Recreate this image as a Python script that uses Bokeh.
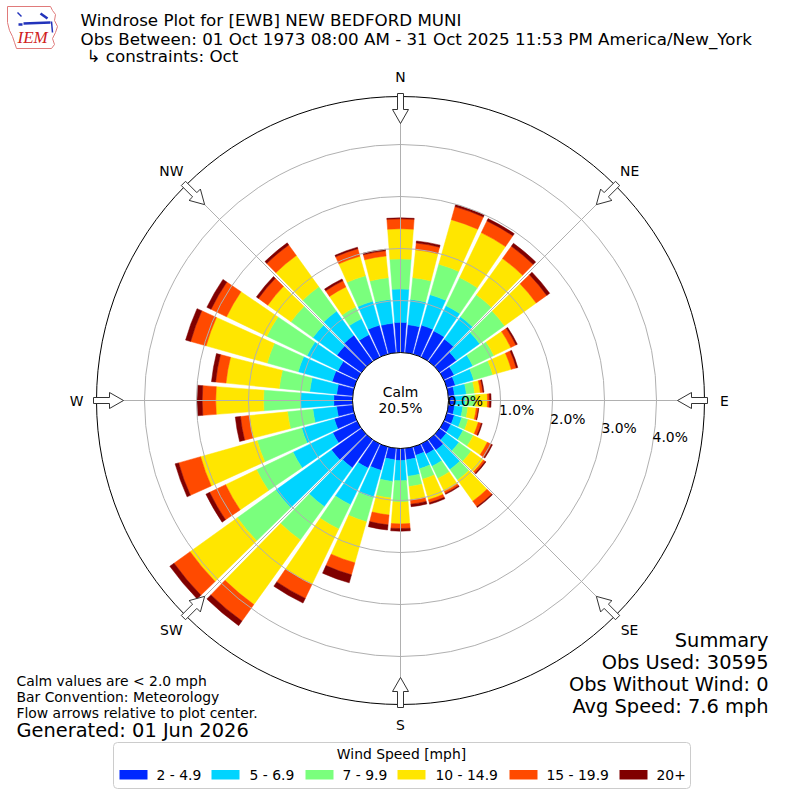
import numpy as np
from bokeh.plotting import figure
from bokeh.models import Range1d, ColumnDataSource
from bokeh.core.properties import value
from bokeh.embed import file_html
from bokeh.resources import INLINE

# ---------------- data ----------------
directions = [0, 10, 20, 30, 40, 50, 60, 70, 80, 90, 100, 110, 120, 130, 140, 150, 160, 170,
              180, 190, 200, 210, 220, 230, 240, 250, 260, 270, 280, 290, 300, 310, 320, 330, 340, 350]
speed_bins = ["2 - 4.9", "5 - 6.9", "7 - 9.9", "10 - 14.9", "15 - 19.9", "20+"]
bin_colors = ["#0028ff", "#00d4ff", "#7aff7d", "#ffe600", "#ff4a00", "#800000"]

pct_2_4_9 = [0.58, 0.54, 0.58, 0.56, 0.53, 0.40, 0.22, 0.17, 0.12, 0.12, 0.12, 0.15, 0.15, 0.16, 0.25, 0.22, 0.17, 0.22,
             0.23, 0.22, 0.47, 0.52, 0.67, 0.71, 0.52, 0.40, 0.31, 0.36, 0.31, 0.44, 0.41, 0.58, 0.62, 0.48, 0.58, 0.57]
pct_5_6_9 = [0.64, 0.49, 0.61, 0.54, 0.53, 0.55, 0.40, 0.37, 0.23, 0.20, 0.16, 0.15, 0.26, 0.30, 0.46, 0.26, 0.27, 0.32,
             0.39, 0.42, 0.55, 0.78, 0.92, 1.32, 0.85, 0.65, 0.46, 0.64, 0.52, 0.68, 0.66, 0.57, 0.57, 0.34, 0.48, 0.46]
pct_7_9_9 = [0.58, 0.42, 0.61, 0.60, 0.52, 0.59, 0.45, 0.38, 0.16, 0.20, 0.10, 0.13, 0.22, 0.29, 0.25, 0.26, 0.21, 0.20,
             0.41, 0.32, 0.48, 0.52, 0.79, 0.91, 0.78, 0.89, 0.49, 0.71, 0.59, 0.62, 0.86, 0.52, 0.58, 0.25, 0.51, 0.42]
pct_10_14_9 = [0.58, 0.54, 0.89, 0.96, 0.86, 0.75, 0.36, 0.37, 0.11, 0.23, 0.16, 0.20, 0.30, 0.29, 0.50, 0.28, 0.41, 0.26,
               0.42, 0.33, 0.82, 1.18, 1.53, 1.12, 0.66, 1.13, 0.74, 0.92, 1.03, 1.22, 0.86, 0.55, 0.74, 0.43, 0.39, 0.42]
pct_15_19_9 = [0.19, 0.13, 0.26, 0.25, 0.29, 0.25, 0.11, 0.10, 0.05, 0.04, 0.04, 0.06, 0.09, 0.04, 0.13, 0.04, 0.06, 0.08,
               0.09, 0.19, 0.24, 0.30, 0.39, 0.38, 0.34, 0.44, 0.17, 0.26, 0.20, 0.31, 0.33, 0.22, 0.25, 0.13, 0.15, 0.10]
pct_20_plus = [0.02, 0.04, 0.04, 0.05, 0.07, 0.07, 0.03, 0.03, 0.02, 0.03, 0.01, 0.02, 0.02, 0.02, 0.02, 0.02, 0.03, 0.05,
               0.05, 0.10, 0.16, 0.10, 0.11, 0.10, 0.08, 0.07, 0.10, 0.10, 0.08, 0.10, 0.09, 0.05, 0.05, 0.04, 0.03, 0.03]
series = [pct_2_4_9, pct_5_6_9, pct_7_9_9, pct_10_14_9, pct_15_19_9, pct_20_plus]

calm_pct = 20.5
ring_values = [0.0, 1.0, 2.0, 3.0, 4.0]
ring_labels = ["0.0%", "1.0%", "2.0%", "3.0%", "4.0%"]
compass_angles = [0, 45, 90, 135, 180, 225, 270, 315]
compass_names = ["N", "NE", "E", "SE", "S", "SW", "W", "NW"]

title_lines = ["Windrose Plot for [EWB] NEW BEDFORD MUNI",
               "Obs Between: 01 Oct 1973 08:00 AM - 31 Oct 2025 11:53 PM America/New_York",
               "\u21b3 constraints: Oct"]
notes = ["Calm values are < 2.0 mph", "Bar Convention: Meteorology", "Flow arrows relative to plot center."]
generated = "Generated: 01 Jun 2026"
summary = ["Summary", "Obs Used: 30595", "Obs Without Wind: 0", "Avg Speed: 7.6 mph"]
legend_title = "Wind Speed [mph]"

# ---------------- geometry ----------------
PX = 52.0            # pixels per percent
CALM_R = 48.0 / PX   # calm circle radius (data units)
OUTER_R = 304.0 / PX
SIZE = 792
FONT = value("DejaVu Sans")
F10 = "13.9px"
F12 = "16.7px"
F14 = "19.4px"


def P(px, py):
    return (px - 400.0) / PX, (400.0 - py) / PX


p = figure(width=SIZE, height=SIZE, output_backend="svg", toolbar_location=None,
           x_range=Range1d(-400 / PX, (SIZE - 400) / PX), y_range=Range1d(-(SIZE - 400) / PX, 400 / PX),
           min_border=0, x_axis_location=None, y_axis_location=None)
p.grid.visible = False
p.outline_line_color = None
p.background_fill_color = "white"
p.border_fill_color = "white"

# ---------------- bars ----------------
half = np.deg2rad(4.3)
inner, outer, start, end, col = [], [], [], [], []
for i, d in enumerate(directions):
    base = CALM_R
    th = np.deg2rad(90 - d)
    for j in range(len(series)):
        v = series[j][i]
        inner.append(base)
        outer.append(base + v)
        start.append(th - half)
        end.append(th + half)
        col.append(bin_colors[j])
        base += v
src = ColumnDataSource(dict(inner=inner, outer=outer, start=start, end=end, color=col))
p.annular_wedge(x=0, y=0, inner_radius="inner", outer_radius="outer", start_angle="start",
                end_angle="end", fill_color="color", line_color="color", line_width=0.5, source=src)

# ---------------- grid ----------------
p.arc(x=0, y=0, radius=[CALM_R + v for v in ring_values[1:]], start_angle=0, end_angle=2 * np.pi,
      line_color="#b0b0b0", line_width=1)
ang = np.deg2rad(np.array(compass_angles, dtype=float))
p.segment(x0=list(CALM_R * np.sin(ang)), y0=list(CALM_R * np.cos(ang)),
          x1=list(OUTER_R * np.sin(ang)), y1=list(OUTER_R * np.cos(ang)),
          line_color="#b0b0b0", line_width=1)
p.circle(x=[0], y=[0], radius=CALM_R, fill_color="white", line_color="black", line_width=1)
p.arc(x=0, y=0, radius=OUTER_R, start_angle=0, end_angle=2 * np.pi, line_color="black", line_width=1)

# radial labels
la = np.deg2rad(-10)
p.text(x=[(CALM_R + v) * np.cos(la) for v in ring_values], y=[(CALM_R + v) * np.sin(la) for v in ring_values],
       text=ring_labels, text_font=FONT, text_font_size=F10, text_align="left",
       text_baseline="bottom", text_color="black")

# calm text
p.text(x=[0, 0], y=[P(0, 391)[1], P(0, 407)[1]], text=["Calm", f"{calm_pct:.1f}%"], text_font=FONT,
       text_font_size=F10, text_align="center", text_baseline="middle", text_color="black")

# compass labels
LR = 324.0 / PX
p.text(x=list(LR * np.sin(ang)), y=list(LR * np.cos(ang)), text=compass_names, text_font=FONT,
       text_font_size=F10, text_align="center", text_baseline="middle", text_color="black")

# arrows
shape = [(0, -3), (16, -3), (16, -8), (30, 0), (16, 8), (16, 3), (0, 3)]
xs, ys = [], []
RT = 307.0
for a in ang:
    ux, uy = np.sin(a), np.cos(a)
    vx, vy = np.cos(a), -np.sin(a)
    xs.append([((RT - s) * ux + t * vx) / PX for s, t in shape])
    ys.append([((RT - s) * uy + t * vy) / PX for s, t in shape])
p.patches(xs=xs, ys=ys, fill_color="white", line_color="#333333", line_width=1)

# ---------------- titles and notes ----------------
for txt, yy, xx in zip(title_lines, [19, 38, 55], [80, 80, 86]):
    x0, y0 = P(xx, yy)
    p.text(x=[x0], y=[y0], text=[txt], text_font=FONT, text_font_size=F12, text_align="left",
           text_baseline="middle", text_color="black")

for txt, yy in zip(notes, [680, 696, 712]):
    x0, y0 = P(16, yy)
    p.text(x=[x0], y=[y0], text=[txt], text_font=FONT, text_font_size=F10, text_align="left",
           text_baseline="middle", text_color="black")
x0, y0 = P(16, 730)
p.text(x=[x0], y=[y0], text=[generated], text_font=FONT, text_font_size=F14, text_align="left",
       text_baseline="middle", text_color="black")

for txt, yy in zip(summary, [640, 662, 684, 706]):
    x0, y0 = P(768, yy)
    p.text(x=[x0], y=[y0], text=[txt], text_font=FONT, text_font_size=F14, text_align="right",
           text_baseline="middle", text_color="black")

# ---------------- legend ----------------
bl, bt = P(113, 742)
br, bb = P(690, 788)
p.quad(left=[bl], right=[br], top=[bt], bottom=[bb], fill_color="white", line_color="#cccccc",
       line_width=1, border_radius=4)
tx, ty = P(401, 753)
p.text(x=[tx], y=[ty], text=[legend_title], text_font=FONT, text_font_size=F10, text_align="center",
       text_baseline="middle", text_color="black")
rect_x = [119, 211, 305, 397, 509, 619]
lab_x = [156, 249, 342, 435, 546, 656]
for rx, lx, c, lab in zip(rect_x, lab_x, bin_colors, speed_bins):
    l, t = P(rx, 769.5)
    r, b = P(rx + 28, 779)
    p.quad(left=[l], right=[r], top=[t], bottom=[b], fill_color=c, line_color=None)
    x0, y0 = P(lx, 774)
    p.text(x=[x0], y=[y0], text=[lab], text_font=FONT, text_font_size=F10, text_align="left",
           text_baseline="middle", text_color="black")

# ---------------- logo (approximation) ----------------
outline = [(7, 6), (50, 6), (52, 10), (55, 14), (54, 20), (57, 26), (55, 32), (52, 38), (54, 44), (51, 48),
           (16, 48), (14, 42), (12, 36), (9, 30), (7, 22)]
p.patch(x=[P(a, b)[0] for a, b in outline], y=[P(a, b)[1] for a, b in outline], fill_color=None,
        line_color="#e07a7a", line_width=1)
for a0, b0, a1, b1, w in [(23, 23, 50, 22, 2.5), (17, 12, 21, 16, 1.5), (40, 13, 47, 18, 2.5),
                          (51, 21, 52, 32, 1.5), (18, 24, 22, 24, 2.5)]:
    s0 = P(a0, b0)
    s1 = P(a1, b1)
    p.segment(x0=[s0[0]], y0=[s0[1]], x1=[s1[0]], y1=[s1[1]], line_color="#2233bb", line_width=w)
ix, iy = P(17, 37)
p.text(x=[ix], y=[iy], text=["IEM"], text_font=value("Liberation Serif"), text_font_style="italic",
       text_font_size="17px", text_align="left", text_baseline="middle", text_color="#d02020")

open("out.html", "w").write(file_html(p, INLINE))
